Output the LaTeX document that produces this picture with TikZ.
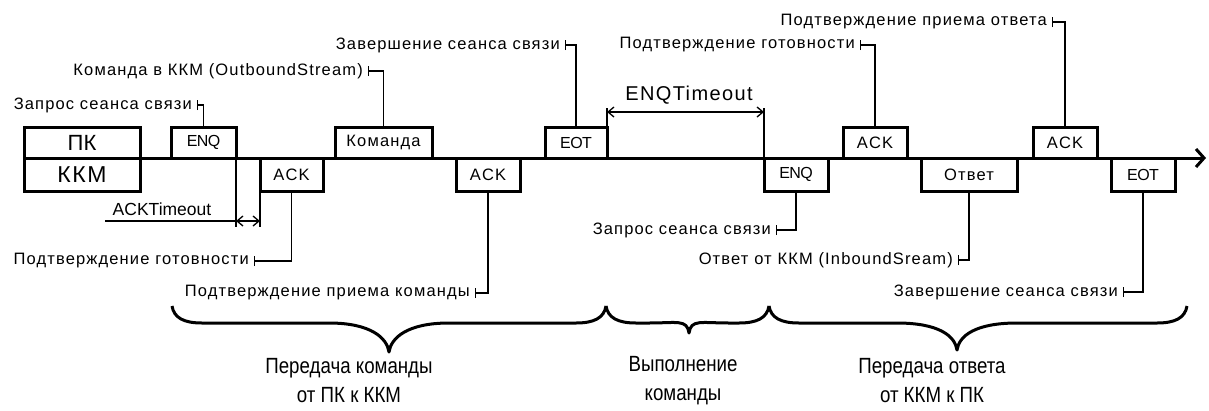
\documentclass[tikz,border=0pt]{standalone}
\usepackage{fontspec}
\setmainfont{Liberation Sans}
\newfontfamily\lblfont[LetterSpace=7]{Liberation Sans}
\newfontfamily\bigfont[FakeStretch=0.85]{Liberation Sans}
\newfontfamily\tightfont[LetterSpace=-4]{Liberation Sans}
\usetikzlibrary{arrows.meta}
\newcommand{\cbrace}[6]{%
 \draw[bracestyle] (#1,#4) .. controls (#1+2,#4+12) and (#1+12,#4+17) .. (#1+30,#4+17)
   -- (#3-#6,#4+17) .. controls (#3-0.3*#6,#4+17) and (#3-2,#4+#5-14) .. (#3,#4+#5)
   .. controls (#3+2,#4+#5-14) and (#3+0.3*#6,#4+17) .. (#3+#6,#4+17)
   -- (#2-30,#4+17) .. controls (#2-12,#4+17) and (#2-2,#4+12) .. (#2,#4);}
\tikzset{
  box/.style={draw, line width=3pt, inner sep=0pt, outer sep=0pt, font=\lblfont\fontsize{16.5}{18}\selectfont},
  tight/.style={font=\tightfont\fontsize{16}{18}\selectfont},
  topbox/.style={box, minimum height=31, anchor=south west},
  botbox/.style={box, minimum height=33, anchor=north west},
  lbl/.style={inner sep=0pt, anchor=east, font=\lblfont\fontsize{16.5}{18}\selectfont},
  conn/.style={line width=1.3pt, {Bar[width=10pt,line width=1.3pt]}-},
  dim/.style={line width=1.3pt},
  dimarr/.style={line width=1.3pt, {Straight Barb[length=6pt,width=10pt]}-{Straight Barb[length=6pt,width=10pt]}},
  bracestyle/.style={line width=3pt, line join=round},
  bigtxt/.style={inner sep=0pt, align=center, font=\bigfont\fontsize{22}{29}\selectfont},
}
\begin{document}
\begin{tikzpicture}[x=1pt,y=-1pt]
\useasboundingbox (0,0) rectangle (1209,410);
% main time line
\coordinate (tend) at (1206,158);
\node[draw, line width=3pt, inner sep=0pt, outer sep=0pt, minimum width=116, minimum height=31, anchor=south west, font=\fontsize{22}{24}\selectfont] (pk) at (24,158) {ПК};
\node[draw, line width=3pt, inner sep=0pt, outer sep=0pt, minimum width=116, minimum height=33, anchor=north west, font=\lblfont\fontsize{23}{24}\selectfont] (kkm) at (24,158) {ККМ};
\draw[line width=3pt, -{Straight Barb[length=8pt,width=18pt,line width=3pt]}] (pk.south east) -- (tend);
% frames
\node[topbox, tight, minimum width=65] (enq1) at (171,158) {ENQ};
\node[botbox, minimum width=63] (ack1) at (260,158) {ACK};
\node[topbox, minimum width=97] (cmd) at (335,158) {Команда};
\node[botbox, minimum width=64] (ack2) at (456,158) {ACK};
\node[topbox, tight, minimum width=62] (eot1) at (545,158) {EOT};
\node[botbox, tight, minimum width=64] (enq2) at (764,158) {ENQ};
\node[topbox, minimum width=64] (ack3) at (843,158) {ACK};
\node[botbox, minimum width=96] (ans) at (921,158) {Ответ};
\node[topbox, minimum width=64] (ack4) at (1033,158) {ACK};
\node[botbox, tight, minimum width=64] (eot2) at (1111,158) {EOT};
% labels
\node[lbl] (l1) at (192,105) {Запрос сеанса связи};
\node[lbl] (l2) at (363,71) {Команда в ККМ (OutboundStream)};
\node[lbl] (l3) at (560,45) {Завершение сеанса связи};
\node[lbl] (l4) at (855,45) {Подтверждение готовности};
\node[lbl] (l5) at (1047,22) {Подтверждение приема ответа};
\node[lbl] (l6) at (249,261) {Подтверждение готовности};
\node[lbl] (l7) at (470,293) {Подтверждение приема команды};
\node[lbl] (l8) at (771,230) {Запрос сеанса связи};
\node[lbl] (l9) at (953,260) {Ответ от ККМ (InboundSream)};
\node[lbl] (l10) at (1118,292) {Завершение сеанса связи};
\draw[conn] ([xshift=5pt]l1.east) -| (enq1.north);
\draw[conn] ([xshift=5pt]l2.east) -| (cmd.north);
\draw[conn] ([xshift=5pt]l3.east) -| (eot1.north);
\draw[conn] ([xshift=5pt]l4.east) -| (ack3.north);
\draw[conn] ([xshift=5pt]l5.east) -| (ack4.north);
\draw[conn] ([xshift=5pt]l6.east) -| (ack1.south);
\draw[conn] ([xshift=5pt]l7.east) -| (ack2.south);
\draw[conn] ([xshift=5pt]l8.east) -| (enq2.south);
\draw[conn] ([xshift=5pt]l9.east) -| (ans.south);
\draw[conn] ([xshift=5pt]l10.east) -| (eot2.south);
% ENQTimeout
\coordinate (et0) at (607,108);
\coordinate (et1) at (764,108);
\coordinate (ea0) at (607,112);
\coordinate (ea1) at (764,112);
\draw[dim] (eot1.north east) -- (et0);
\draw[dim] (enq2.north west) -- (et1);
\draw[dimarr] (ea0) -- (ea1);
\node[inner sep=0pt, font=\lblfont\fontsize{20}{24}\selectfont] (enqt) at (689,95) {ENQTimeout};
% ACKTimeout
\coordinate (at0) at (236,227);
\coordinate (at1) at (260,227);
\coordinate (aa0) at (236,221);
\coordinate (aa1) at (260,221);
\coordinate (al) at (105,221);
\draw[dim] (enq1.south east) -- (at0);
\draw[dim] (ack1.south west) -- (at1);
\draw[dim] (al) -- (aa0);
\draw[dimarr] (aa0) -- (aa1);
\node[inner sep=0pt, font=\fontsize{17.5}{20}\selectfont] (ackt) at (162,209) {ACKTimeout};
% braces
\cbrace{172}{606}{389}{306}{46}{60}
\cbrace{606}{769}{689}{306}{27}{40}
\cbrace{769}{1187}{957}{306}{44}{60}
\node[bigtxt] (t1) at (349,381) {Передача команды\\от ПК к ККМ};
\node[bigtxt] (t2) at (683,381) {Выполнение\\команды};
\node[bigtxt] (t3) at (932,381) {Передача ответа\\от ККМ к ПК};
\end{tikzpicture}
\end{document}
